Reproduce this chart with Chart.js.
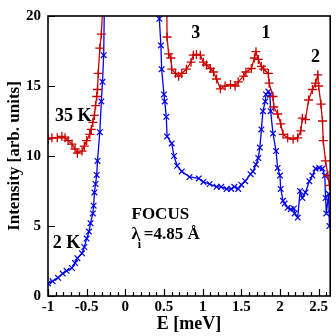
<!DOCTYPE html>
<html>
<head>
<meta charset="utf-8">
<script src="https://cdn.jsdelivr.net/npm/chart.js@4.4.0/dist/chart.umd.min.js"></script>
<style>
  html, body { margin: 0; padding: 0; background: #fff; }
</style>
</head>
<body>
<canvas id="c" width="336" height="336"></canvas>
<script>
// 35 K (red, +)
const hotE = [-1.00, -0.95, -0.88, -0.82, -0.78, -0.74, -0.69, -0.65, -0.62, -0.56, -0.53, -0.50, -0.46, -0.44,
  -0.42, -0.40, -0.385, -0.37, -0.36, -0.35, -0.33, -0.31, -0.28, 0.0, 0.53,
  0.54, 0.56, 0.59, 0.60, 0.65, 0.69, 0.73, 0.79, 0.85, 0.88, 0.92, 0.97, 1.01, 1.05, 1.10, 1.14, 1.18, 1.23,
  1.29, 1.36, 1.42, 1.46, 1.53, 1.56, 1.63, 1.67, 1.69, 1.72, 1.76, 1.79, 1.85, 1.86, 1.91, 1.92, 1.97, 2.01,
  2.04, 2.10, 2.17, 2.23, 2.27, 2.29, 2.33, 2.37, 2.42, 2.46, 2.49, 2.50, 2.53, 2.55, 2.56, 2.59, 2.62, 2.64];
const hotI = [11.2, 11.3, 11.3, 11.4, 11.3, 11.1, 10.85, 10.5, 10.2, 10.35, 10.7, 11.1, 11.55, 11.9,
  12.4, 12.9, 13.6, 14.25, 14.75, 15.9, 17.7, 18.7, 22, 60, 25,
  18.5, 17.3, 17.0, 16.2, 15.9, 15.7, 15.9, 16.2, 16.7, 17.2, 17.25, 17.2, 16.7, 16.5, 16.25, 16.0, 15.5, 14.8,
  15.0, 15.1, 15.0, 15.3, 15.7, 16.0, 16.25, 17.0, 17.45, 16.9, 16.4, 16.2, 15.9, 15.2, 14.25, 13.5, 13.0, 12.3,
  11.55, 11.3, 11.2, 11.3, 11.8, 12.7, 12.6, 14.0, 14.75, 15.2, 15.8, 15.0, 13.7, 12.5, 11.1, 9.65, 8.6, 7.9];

// 2 K (blue, x)
const coldE = [-1.00, -0.94, -0.87, -0.81, -0.76, -0.69, -0.65, -0.62, -0.56, -0.53, -0.50, -0.47, -0.45, -0.42,
  -0.41, -0.40, -0.385, -0.37, -0.36, -0.33, -0.31, -0.295, -0.28, -0.26, 0.0, 0.40,
  0.44, 0.46, 0.47, 0.50, 0.51, 0.53, 0.54, 0.60, 0.63, 0.67, 0.73, 0.83, 0.95, 1.01, 1.09, 1.18, 1.24, 1.31,
  1.37, 1.41, 1.46, 1.50, 1.55, 1.62, 1.65, 1.69, 1.72, 1.74, 1.76, 1.78, 1.81, 1.82, 1.85, 1.87, 1.88, 1.91,
  1.95, 1.97, 2.00, 2.01, 2.04, 2.06, 2.10, 2.14, 2.18, 2.19, 2.23, 2.26, 2.29, 2.33, 2.38, 2.42, 2.46, 2.51,
  2.55, 2.58, 2.59, 2.60, 2.63, 2.64];
const coldI = [0.9, 1.05, 1.3, 1.6, 1.8, 2.0, 2.35, 2.7, 3.05, 3.5, 4.1, 4.6, 5.2, 5.9,
  6.45, 7.4, 8.0, 8.65, 9.65, 11.7, 13.9, 15.3, 17.2, 25, 80, 25,
  19.8, 17.9, 16.2, 14.4, 13.9, 12.8, 11.4, 10.9, 10.0, 9.3, 8.9, 8.5, 8.4, 8.15, 8.0, 7.8, 7.8, 7.65,
  7.65, 7.8, 7.65, 7.95, 8.2, 8.7, 8.9, 9.4, 9.85, 10.6, 11.9, 13.2, 13.9, 14.4, 14.6, 14.4, 13.2, 11.6,
  10.35, 9.15, 8.6, 7.65, 6.8, 6.6, 6.3, 6.2, 6.25, 5.9, 5.6, 7.5, 7.0, 7.4, 8.2, 8.6, 9.1, 9.15,
  9.1, 8.6, 7.0, 5.9, 7.3, 5.0];

const xTicks = [-1, -0.5, 0, 0.5, 1, 1.5, 2, 2.5];
const yTicks = [0, 5, 10, 15, 20];

function toPts(xs, ys) {
  return xs.map((v, i) => ({ x: v, y: ys[i] }));
}

const serif = '"Liberation Serif", "DejaVu Serif", serif';

// cadre + graduations vers l'intérieur + textes
const cadre = {
  id: 'cadre',
  afterDraw(chart) {
    const { ctx, chartArea: a, scales } = chart;
    ctx.save();
    ctx.strokeStyle = '#000';
    ctx.lineWidth = 1.6;
    ctx.strokeRect(a.left, a.top, a.right - a.left, a.bottom - a.top);
    ctx.lineWidth = 1.2;
    ctx.beginPath();
    for (let v = -1; v <= 2.651; v += 0.1) {
      const px = Math.round(scales.x.getPixelForValue(v)) + 0.5;
      const major = Math.abs(v * 2 - Math.round(v * 2)) < 1e-6;
      ctx.moveTo(px, a.bottom);
      ctx.lineTo(px, a.bottom - (major ? 7 : 4));
    }
    yTicks.forEach(v => {
      const py = Math.round(scales.y.getPixelForValue(v)) + 0.5;
      ctx.moveTo(a.left, py);
      ctx.lineTo(a.left + 7, py);
    });
    ctx.stroke();

    const X = v => scales.x.getPixelForValue(v);
    const Y = v => scales.y.getPixelForValue(v);
    ctx.fillStyle = '#000';
    ctx.font = 'bold 18px ' + serif;
    ctx.textBaseline = 'alphabetic';
    ctx.textAlign = 'left';
    ctx.fillText('35 K', X(-0.91), Y(12.5));
    ctx.fillText('2 K', X(-0.94), Y(3.4));
    ctx.textAlign = 'center';
    ctx.fillText('3', X(0.91), Y(18.4));
    ctx.fillText('1', X(1.82), Y(18.4));
    ctx.fillText('2', X(2.46), Y(16.7));
    ctx.textAlign = 'left';
    ctx.font = 'bold 17px ' + serif;
    ctx.fillText('FOCUS', X(0.08), Y(5.5));
    ctx.fillText('\u03bb', X(0.08), Y(4.1));
    const lw = ctx.measureText('\u03bb').width;
    ctx.fillText('=4.85 \u00c5', X(0.08) + lw + 4, Y(4.1));
    ctx.font = 'bold 12px ' + serif;
    ctx.fillText('i', X(0.08) + lw - 2, Y(4.1) + 9);
    ctx.restore();
  }
};

new Chart(document.getElementById('c'), {
  type: 'scatter',
  data: {
    datasets: [
      {
        label: '35 K',
        data: toPts(hotE, hotI),
        showLine: true,
        borderColor: '#cc0000',
        pointBorderColor: '#cc0000',
        borderWidth: 1.3,
        pointStyle: 'cross',
        pointRadius: 4.5,
        pointBorderWidth: 1.3,
        tension: 0
      },
      {
        label: '2 K',
        data: toPts(coldE, coldI),
        showLine: true,
        borderColor: '#0000ee',
        pointBorderColor: '#0000ee',
        borderWidth: 1.3,
        pointStyle: 'crossRot',
        pointRadius: 4,
        pointBorderWidth: 1.2,
        tension: 0
      }
    ]
  },
  options: {
    responsive: false,
    animation: false,
    events: [],
    layout: { padding: { top: 14, right: 4, left: 0, bottom: 0 } },
    plugins: { legend: { display: false }, tooltip: { enabled: false } },
    scales: {
      x: {
        type: 'linear',
        min: -1,
        max: 2.65,
        afterBuildTicks: s => { s.ticks = xTicks.map(v => ({ value: v })); },
        afterFit: s => { s.height = 40; },
        grid: { display: false, drawTicks: false },
        border: { display: false },
        ticks: {
          autoSkip: false,
          maxRotation: 0,
          padding: 2,
          color: '#000',
          callback: v => String(v),
          font: { family: serif, size: 15, weight: 'bold' }
        },
        title: {
          display: true,
          text: 'E [meV]',
          color: '#000',
          padding: { top: 0, bottom: 1 },
          font: { family: serif, size: 18, weight: 'bold' }
        }
      },
      y: {
        min: 0,
        max: 20,
        afterBuildTicks: s => { s.ticks = yTicks.map(v => ({ value: v })); },
        afterFit: s => { s.width = 48; },
        grid: { display: false, drawTicks: false },
        border: { display: false },
        ticks: {
          padding: 7,
          color: '#000',
          font: { family: serif, size: 15, weight: 'bold' }
        },
        title: {
          display: true,
          text: 'Intensity [arb. units]',
          color: '#000',
          padding: { top: 4, bottom: 0 },
          font: { family: serif, size: 17, weight: 'bold' }
        }
      }
    }
  },
  plugins: [cadre]
});
</script>
</body>
</html>
